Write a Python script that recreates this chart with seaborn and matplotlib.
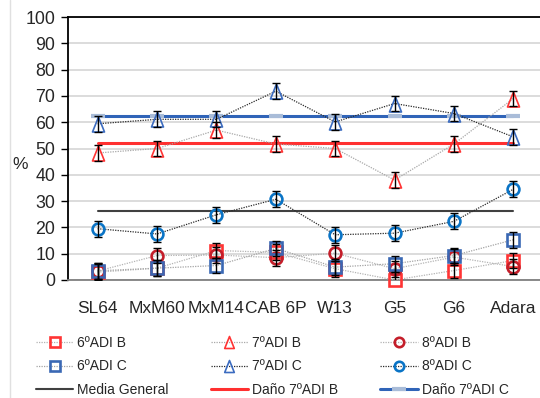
import numpy as np
import pandas as pd
import seaborn as sns
import matplotlib
matplotlib.use("Agg")
import matplotlib.pyplot as plt
from matplotlib.lines import Line2D
from matplotlib.path import Path

categories = ["SL64", "MxM60", "MxM14", "CAB 6P", "W13", "G5", "G6", "Adara"]

adi6_B = [3.0, 4.5, 11.2, 10.5, 4.3, 0.0, 3.6, 7.4]
adi7_B = [48.3, 50.0, 57.0, 51.7, 50.0, 38.0, 51.7, 69.0]
adi8_B = [3.4, 9.3, 9.5, 8.5, 10.2, 4.3, 8.7, 5.1]
adi6_C = [3.5, 4.5, 5.5, 12.0, 4.9, 6.2, 9.3, 15.3]
adi7_C = [59.4, 61.1, 61.1, 71.8, 60.1, 67.1, 63.3, 54.4]
adi8_C = [19.5, 17.5, 24.8, 30.7, 17.2, 17.8, 22.3, 34.5]

err_6B = [3, 3, 3, 3, 3, 3, 3, 3]
err_7B = [3, 3, 3, 3, 3, 3, 3, 3]
err_8B = [3, 3, 3, 3, 3, 3, 3, 3]
err_6C = [3, 3, 3, 3, 3, 3, 3, 3]
err_7C = [3, 3, 3, 3, 3, 3, 3, 3]
err_8C = [3, 3, 3, 3, 3, 3, 3, 3]

media_general = 26.3
dano_7B = 52.0
dano_7C = 62.4

yticks = [0, 10, 20, 30, 40, 50, 60, 70, 80, 90, 100]

sns.set_theme(style="white")
plt.rcParams['font.family'] = ['Liberation Sans', 'DejaVu Sans']

fig = plt.figure(figsize=(5.4, 3.98), dpi=100)
ax = fig.add_axes([68/540, 1-280/398, (543-68)/540, (280-17)/398])

x = np.arange(len(categories))

tri = Path([(0, 1), (-0.8, -1), (0.8, -1), (0, 1)],
           [Path.MOVETO, Path.LINETO, Path.LINETO, Path.CLOSEPOLY])

# horizontal reference lines
ref_lines = [(media_general, "Media General", "#404040", None, 1.5),
             (dano_7B, "Daño 7ºADI B", "#ff3030", None, 2.2),
             (dano_7C, "Daño 7ºADI C", "#3064b8", "#a9bcd8", 2.2)]
for val, name, col, mcol, lw in ref_lines:
    df = pd.DataFrame({"x": x, "y": [val] * len(x)})
    kw = {}
    if mcol is not None:
        kw = dict(marker="_", markersize=10, markeredgewidth=3, markeredgecolor=mcol)
    sns.lineplot(data=df, x="x", y="y", ax=ax, color=col, lw=lw, zorder=2, **kw)

series = [
    ("6ºADI B", adi6_B, err_6B, "s", "#ff3434", "#b4b4b4", 8.5, 1.9),
    ("7ºADI B", adi7_B, err_7B, tri, "#ff3434", "#a8a8a8", 10.8, 1.2),
    ("8ºADI B", adi8_B, err_8B, "o", "#c41e2a", "#b4b4b4", 8.5, 1.9),
    ("6ºADI C", adi6_C, err_6C, "s", "#3a68b4", "#a4a4a4", 8.5, 1.9),
    ("7ºADI C", adi7_C, err_7C, tri, "#3c6cc0", "#2a2a2a", 10.8, 1.2),
    ("8ºADI C", adi8_C, err_8C, "o", "#0a74c6", "#2a2a2a", 8.5, 1.9),
]

handles = {}
for name, vals, errs, mk, col, lcol, ms, mew in series:
    df = pd.DataFrame({"x": x, "y": vals})
    sns.lineplot(data=df, x="x", y="y", ax=ax, color=lcol, lw=0.9, linestyle=(0, (1, 1)),
                 zorder=3)
    ax.plot(x, vals, linestyle="none", marker=mk, markersize=ms, markerfacecolor="none",
            markeredgecolor=col, markeredgewidth=mew, zorder=4, clip_on=False)
    ax.errorbar(x, vals, yerr=errs, fmt="none", ecolor="black", elinewidth=1,
                capsize=3, capthick=1, zorder=5)
    handles[name] = Line2D([], [], color=lcol, lw=0.9, linestyle=(0, (1, 1)), marker=mk,
                           markersize=ms * 0.8, markerfacecolor="none", markeredgecolor=col,
                           markeredgewidth=mew)

handles["Media General"] = Line2D([], [], color="#404040", lw=1.5)
handles["Daño 7ºADI B"] = Line2D([], [], color="#ff3030", lw=2.2)
handles["Daño 7ºADI C"] = Line2D([], [], color="#3064b8", lw=2.2, marker="_", markersize=10,
                                 markeredgewidth=3, markeredgecolor="#a9bcd8")

ax.set_xlim(-0.5, len(categories) - 0.5)
ax.set_ylim(0, 100)
ax.set_xticks(x)
ax.set_xticklabels(categories, fontsize=12.5)
ax.set_yticks(yticks)
ax.set_yticklabels([str(v) for v in yticks], fontsize=12.8)
ax.set_xlabel("")
ax.set_ylabel("%", fontsize=12.5, rotation=0, va="center", ha="center")
ax.yaxis.set_label_coords((20 - 68) / 475, (279.5 - 164) / 263)
ax.yaxis.grid(True, color="#d9d9d9", lw=1.3)
ax.set_axisbelow(True)
for s in ["left", "top"]:
    ax.spines[s].set_color("black")
    ax.spines[s].set_linewidth(1.3)
ax.spines["bottom"].set_color("#808080")
ax.spines["bottom"].set_linewidth(1.3)
ax.spines["right"].set_visible(False)
ax.tick_params(axis="y", left=True, length=5, width=1, color="black", pad=4)
ax.tick_params(axis="x", bottom=False, pad=9)

order = ["6ºADI B", "6ºADI C", "Media General",
         "7ºADI B", "7ºADI C", "Daño 7ºADI B",
         "8ºADI B", "8ºADI C", "Daño 7ºADI C"]
fig.legend([handles[k] for k in order], order, loc="lower left",
           bbox_to_anchor=(24 / 540, -0.026), ncol=3, frameon=False, fontsize=10,
           handlelength=2.7, columnspacing=3.0, handletextpad=0.3, labelspacing=0.66,
           borderpad=0.35)

fig.add_artist(Line2D([10 / 540, 10 / 540], [0, 1], color="#e0e0e0", lw=1))

fig.savefig("out.png", dpi=100)
